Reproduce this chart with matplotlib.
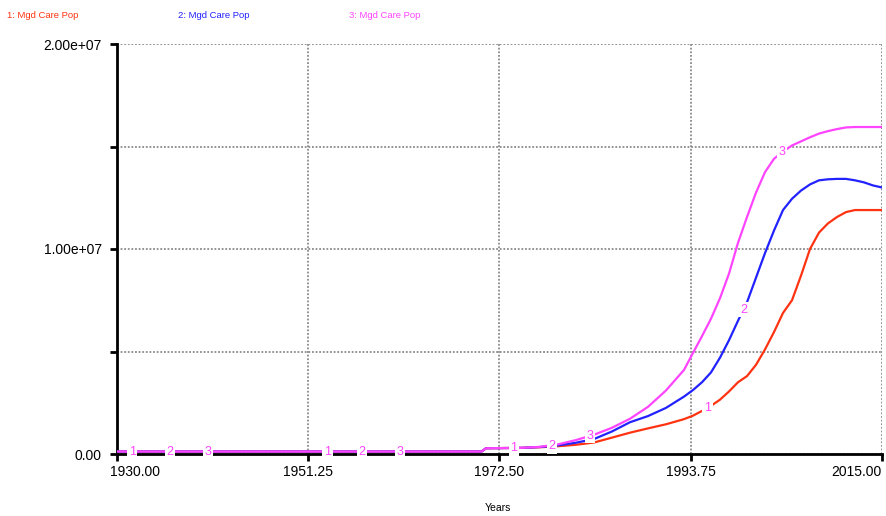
import numpy as np
import matplotlib.pyplot as plt
import matplotlib.transforms as mtransforms

# simulation output (population, millions)
years = [1930, 1970.5, 1971, 1975, 1977, 1979, 1981, 1983, 1985, 1987, 1989,
         1991, 1993, 1994, 1995, 1996, 1997, 1998, 1999, 2000, 2001, 2002,
         2003, 2004, 2005, 2006, 2007, 2008, 2009, 2010, 2011, 2012, 2013,
         2014, 2015]
run1 = [0.12, 0.12, 0.28, 0.30, 0.33, 0.38, 0.45, 0.56, 0.80, 1.04, 1.25,
        1.45, 1.70, 1.87, 2.10, 2.35, 2.65, 3.05, 3.50, 3.80, 4.35, 5.10,
        5.95, 6.88, 7.50, 8.70, 10.0, 10.8, 11.25, 11.56, 11.8, 11.9, 11.9,
        11.9, 11.9]
run2 = [0.12, 0.12, 0.28, 0.30, 0.34, 0.42, 0.55, 0.73, 1.10, 1.55, 1.85,
        2.25, 2.80, 3.12, 3.50, 3.98, 4.70, 5.55, 6.50, 7.40, 8.60, 9.80,
        10.9, 11.9, 12.45, 12.85, 13.15, 13.35, 13.4, 13.42, 13.42, 13.35,
        13.25, 13.1, 13.0]
run3 = [0.12, 0.12, 0.28, 0.30, 0.35, 0.47, 0.68, 0.94, 1.28, 1.72, 2.30,
        3.10, 4.10, 4.93, 5.75, 6.60, 7.60, 8.80, 10.3, 11.56, 12.75, 13.75,
        14.4, 14.75, 15.05, 15.25, 15.45, 15.63, 15.75, 15.85, 15.93, 15.95,
        15.95, 15.95, 15.95]
names = ["1: Mgd Care Pop", "2: Mgd Care Pop", "3: Mgd Care Pop"]
label_years = [[1931.7, 1953.4, 1974.1, 1995.6],
               [1935.9, 1957.2, 1978.3, 1999.6],
               [1940.1, 1961.4, 1982.6, 2003.9]]
xticks = [1930, 1951.25, 1972.5, 1993.75, 2015]
xtick_labels = ["1930.00", "1951.25", "1972.50", "1993.75", "2015.00"]

colors = ["#ff3311", "#2222ff", "#ff44ff"]
label_color = "#ff44ff"

plt.rcParams['font.family'] = ['Liberation Sans', 'DejaVu Sans']

fig = plt.figure(figsize=(8.87, 5.16), dpi=100)
ax = fig.add_axes([117 / 887, 1 - 454 / 516, 765 / 887, 410 / 516])

series = [run1, run2, run3]
for i, vals in enumerate(series):
    v = np.array(vals) * 1e6
    ax.plot(years, v, color=colors[i], lw=1.6, zorder=3 + i)
    for ly in label_years[i]:
        ax.text(ly, np.interp(ly, years, v), str(i + 1), color=label_color,
                fontsize=9, ha='center', va='center', zorder=10,
                bbox=dict(facecolor='white', edgecolor='none', pad=1.2))

ax.set_xlim(1930, 2015)
ax.set_ylim(0, 2e7)
ax.set_xticks(xticks)
ax.set_xticklabels(xtick_labels)
ax.set_yticks([0, 5e6, 1e7, 1.5e7, 2e7])
ax.set_yticklabels(["0.00", "", "1.00e+07", "", "2.00e+07"])
ax.grid(True, color='#8a8a8a', linestyle=(0, (1, 1)), lw=1.3, zorder=1)
for side in ['top', 'right']:
    ax.spines[side].set_visible(False)
for side in ['left', 'bottom']:
    ax.spines[side].set_linewidth(2)
    ax.spines[side].set_zorder(2)
ax.tick_params(direction='out', length=5, width=2, labelsize=10,
               colors='black')
ax.tick_params(axis='x', pad=3)
ax.tick_params(axis='y', pad=6)
xl = ax.get_xticklabels()
xl[0].set_ha('left')
xl[0].set_transform(xl[0].get_transform() +
                    mtransforms.ScaledTranslation(-0.07, 0, fig.dpi_scale_trans))
xl[-1].set_ha('right')

fig.text(498 / 887, 1 - 508 / 516, "Years", fontsize=7.5,
         ha='center', va='center')

xs = [7, 178, 349]
for i, n in enumerate(names):
    fig.text(xs[i] / 887, 1 - 16 / 516, n, color=colors[i], fontsize=6.8,
             ha='left', va='center')

fig.savefig("out.png", dpi=100)
